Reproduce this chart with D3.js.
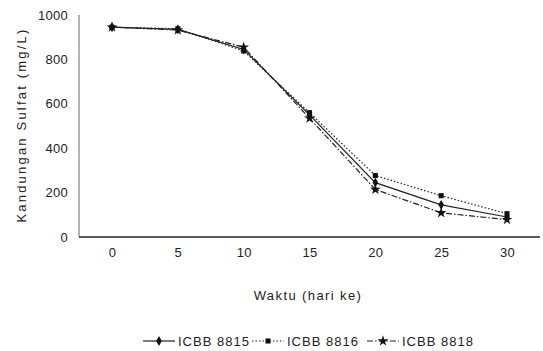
<!DOCTYPE html>
<html>
<head>
<meta charset="utf-8">
<script src="https://cdn.jsdelivr.net/npm/d3@7"></script>
<style>
  body { margin: 0; background: #fff; }
  svg { font-family: "Liberation Sans", Arial, sans-serif; }
</style>
</head>
<body>
<div class="chart"></div>
<script>
// values
const days = [0, 5, 10, 15, 20, 25, 30];
const icbb8815 = [945, 935, 845, 550, 245, 145, 90];
const icbb8816 = [945, 938, 838, 560, 277, 186, 105];
const icbb8818 = [945, 932, 855, 535, 214, 109, 78];
const seriesNames = ['ICBB 8815', 'ICBB 8816', 'ICBB 8818'];
const yTicks = [0, 200, 400, 600, 800, 1000];

const width = 543, height = 351;

const svg = d3.select('.chart')
    .append('svg')
    .attr('width', width)
    .attr('height', height);

const x = d3.scaleLinear().domain([0, 30]).range([112, 507]);
const y = d3.scaleLinear().domain([0, 1000]).range([237, 15]);

// axes lines (no tick marks in the original)
svg.append('line')
    .attr('x1', 79).attr('x2', 79)
    .attr('y1', y(1000)).attr('y2', y(0))
    .attr('stroke', '#666').attr('stroke-width', 1);

svg.append('line')
    .attr('x1', 79).attr('x2', 540)
    .attr('y1', y(0)).attr('y2', y(0))
    .attr('stroke', '#222').attr('stroke-width', 1.5);

const yAxis = d3.axisLeft(y).tickValues(yTicks).tickFormat(d3.format('d')).tickSize(0).tickPadding(11);
svg.append('g')
    .attr('transform', 'translate(79,0)')
    .call(yAxis)
    .call(g => g.select('.domain').remove())
    .selectAll('text')
    .attr('font-size', 13)
    .attr('letter-spacing', 0.3)
    .attr('fill', '#222');

const xAxis = d3.axisBottom(x).tickValues(days).tickFormat(d3.format('d')).tickSize(0).tickPadding(11);
svg.append('g')
    .attr('transform', `translate(0,${y(0)})`)
    .call(xAxis)
    .call(g => g.select('.domain').remove())
    .selectAll('text')
    .attr('font-size', 13)
    .attr('letter-spacing', 0.3)
    .attr('fill', '#222');

// axis titles
svg.append('text')
    .attr('transform', 'translate(26,125) rotate(-90)')
    .attr('text-anchor', 'middle')
    .attr('font-size', 13)
    .attr('letter-spacing', 2.2)
    .attr('fill', '#222')
    .text('Kandungan Sulfat (mg/L)');

svg.append('text')
    .attr('x', 308)
    .attr('y', 300)
    .attr('text-anchor', 'middle')
    .attr('font-size', 13)
    .attr('letter-spacing', 1.4)
    .attr('fill', '#222')
    .text('Waktu (hari ke)');

// series
const series = [
    {name: seriesNames[0], values: icbb8815, dash: null, symbol: d3.symbolDiamond, size: 28},
    {name: seriesNames[1], values: icbb8816, dash: '1.5,2', symbol: d3.symbolSquare, size: 26},
    {name: seriesNames[2], values: icbb8818, dash: '6,2,1.5,2', symbol: d3.symbolStar, size: 36}
];

const line = d3.line()
    .x((d, i) => x(days[i]))
    .y(d => y(d));

series.forEach(s => {
    svg.append('path')
        .datum(s.values)
        .attr('d', line)
        .attr('fill', 'none')
        .attr('stroke', '#222')
        .attr('stroke-width', 1.2)
        .attr('stroke-dasharray', s.dash);

    svg.selectAll(null)
        .data(s.values)
        .enter()
        .append('path')
        .attr('d', d3.symbol().type(s.symbol).size(s.size))
        .attr('transform', (d, i) => `translate(${x(days[i])},${y(d)})`)
        .attr('fill', '#111');
});

// legend
const legendX = [143, 252, 367];
const legendY = 341;

series.forEach((s, i) => {
    const lx = legendX[i];
    svg.append('line')
        .attr('x1', lx).attr('x2', lx + 32)
        .attr('y1', legendY).attr('y2', legendY)
        .attr('stroke', '#222')
        .attr('stroke-width', 1.2)
        .attr('stroke-dasharray', s.dash);
    svg.append('path')
        .attr('d', d3.symbol().type(s.symbol).size(s.size))
        .attr('transform', `translate(${lx + 16},${legendY})`)
        .attr('fill', '#111');
    svg.append('text')
        .attr('x', lx + 35)
        .attr('y', legendY + 5)
        .attr('font-size', 13)
        .attr('letter-spacing', 1)
        .attr('fill', '#222')
        .text(s.name);
});
</script>
</body>
</html>
